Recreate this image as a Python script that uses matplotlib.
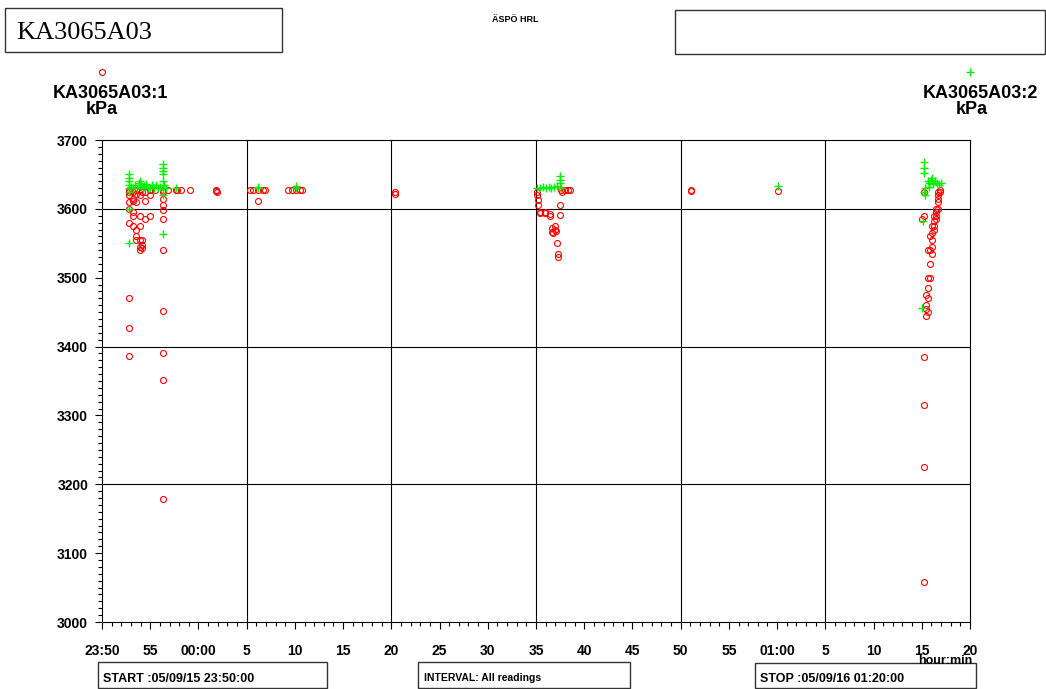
import matplotlib as mpl
mpl.use('Agg')
import matplotlib.pyplot as plt
from matplotlib.patches import Rectangle
from matplotlib.ticker import MultipleLocator

# minutes after 23:50 (05/09/15), pressure in kPa
s1_min = [2.8, 2.8, 2.8, 2.8, 2.8, 2.8, 2.8, 2.8, 2.8,
          3.2, 3.2, 3.2, 3.2, 3.2, 3.2,
          3.5, 3.5, 3.5, 3.5, 3.5, 3.5,
          3.9, 3.9, 3.9, 3.9, 3.9, 3.9, 3.9,
          4.1, 4.1, 4.1, 4.1,
          4.5, 4.5, 4.5, 5.0, 5.0, 5.0, 5.5,
          6.3, 6.3, 6.3, 6.3, 6.3, 6.3, 6.3, 6.3, 6.3, 6.3, 6.3,
          6.8, 7.7, 7.8, 8.2, 9.1,
          11.8, 11.8, 11.9,
          15.3, 15.7, 16.2, 16.2, 16.7, 16.9,
          19.3, 19.7, 20.1, 20.5, 20.7,
          30.4, 30.4,
          45.1, 45.1, 45.2, 45.2, 45.4, 45.4, 45.9, 45.9, 46.5, 46.5,
          46.7, 46.7, 46.8, 47.0, 47.0, 47.1, 47.2, 47.3, 47.3,
          47.5, 47.5, 47.6, 47.7, 48.0, 48.3, 48.5,
          61.1, 61.1, 70.1,
          85.2, 85.2, 85.0, 85.2, 85.2, 85.2, 85.2,
          85.4, 85.4, 85.4, 85.4,
          85.6, 85.6, 85.6, 85.6, 85.6,
          85.9, 85.9, 85.9, 85.9,
          86.1, 86.1, 86.1, 86.1, 86.1,
          86.3, 86.3, 86.3, 86.3,
          86.5, 86.5, 86.5, 86.5,
          86.7, 86.7, 86.7, 86.7, 86.7,
          86.9, 86.9]
s1_kpa = [3627, 3625, 3620, 3610, 3600, 3580, 3470, 3427, 3387,
          3625, 3615, 3612, 3595, 3590, 3575,
          3628, 3622, 3610, 3570, 3560, 3555,
          3628, 3620, 3590, 3575, 3555, 3545, 3540,
          3625, 3555, 3548, 3543,
          3625, 3612, 3585, 3628, 3620, 3590, 3628,
          3627, 3625, 3615, 3605, 3598, 3585, 3540, 3452, 3390, 3352, 3178,
          3627, 3627, 3628, 3627, 3627,
          3626, 3627, 3625,
          3627, 3627, 3627, 3612, 3627, 3627,
          3627, 3627, 3627, 3627, 3627,
          3625, 3622,
          3625, 3620, 3613, 3605, 3596, 3594, 3595, 3594, 3593, 3590,
          3572, 3567, 3565, 3570, 3575, 3568, 3550, 3535, 3530,
          3605, 3591, 3627, 3625, 3628, 3627, 3627,
          3627, 3626, 3626,
          3625, 3590, 3585, 3385, 3315, 3225, 3058,
          3455, 3445, 3460, 3475,
          3540, 3500, 3485, 3470, 3450,
          3560, 3540, 3520, 3500,
          3575, 3565, 3555, 3545, 3535,
          3590, 3583, 3575, 3570,
          3600, 3595, 3590, 3585,
          3625, 3620, 3615, 3610, 3600,
          3628, 3625]

s2_min = [2.8, 2.8, 2.8, 2.8, 2.8, 2.8, 2.8, 2.8,
          3.0, 3.2, 3.4, 3.6, 3.8, 3.9, 3.9, 4.0, 4.2, 4.4, 4.6, 4.8,
          5.0, 5.2, 5.4, 5.6, 5.8, 6.0,
          6.3, 6.3, 6.3, 6.3, 6.3, 6.3, 6.3, 6.3, 6.4, 6.6,
          7.7, 16.2, 16.2, 20.1, 20.1,
          45.1, 45.4, 45.7, 46.0, 46.3, 46.6, 46.9, 47.2, 47.5, 47.5, 47.5, 47.6,
          70.1,
          85.2, 85.2, 85.2, 85.2, 85.1, 85.0, 85.3, 85.3,
          85.6, 85.8, 86.0, 86.2, 86.4, 86.6, 86.8, 87.0, 85.8, 86.1]
s2_kpa = [3625, 3630, 3635, 3640, 3645, 3650, 3600, 3550,
          3632, 3630, 3635, 3630, 3638, 3640, 3635, 3632, 3630, 3633, 3636, 3630,
          3631, 3635, 3630, 3634, 3630, 3632,
          3630, 3640, 3650, 3655, 3660, 3665, 3620, 3563, 3635, 3630,
          3630, 3632, 3630, 3633, 3630,
          3630, 3631, 3632, 3630, 3632, 3631, 3632, 3633, 3637, 3642, 3648, 3630,
          3633,
          3668, 3660, 3652, 3625, 3583, 3456, 3620, 3630,
          3640, 3638, 3642, 3636, 3640, 3637, 3635, 3638, 3632, 3645]

xtick_min = list(range(0, 91, 5))
xtick_lab = ["23:50", "55", "00:00", "5", "10", "15", "20", "25", "30", "35",
             "40", "45", "50", "55", "01:00", "5", "10", "15", "20"]
ytick_kpa = list(range(3000, 3701, 100))
vgrid = [15, 30, 45, 60, 75]
hgrid = [3200, 3400, 3600]

W, H = 1046, 689
fig = plt.figure(figsize=(W / 100, H / 100), dpi=100)
ax = fig.add_axes([102 / W, 1 - 622 / H, 868 / W, 482 / H])

for g in vgrid:
    ax.axvline(g, color='black', lw=0.8, zorder=1)
for g in hgrid:
    ax.axhline(g, color='black', lw=0.8, zorder=1)

red = '#ff0000'
green = '#00ee00'
ax.plot(s1_min, s1_kpa, 'o', mfc='none', mec=red, ms=4.3, mew=0.8, zorder=3, clip_on=False)
ax.plot(s2_min, s2_kpa, '+', color=green, ms=6, mew=1.0, zorder=4, clip_on=False)

ax.set_xlim(0, 90)
ax.set_ylim(3000, 3700)
ax.set_xticks(xtick_min)
ax.set_xticklabels(xtick_lab)
ax.set_yticks(ytick_kpa)
ax.xaxis.set_minor_locator(MultipleLocator(1))
ax.yaxis.set_minor_locator(MultipleLocator(10))
ax.tick_params(which='major', direction='out', length=5, width=0.8, labelsize=10)
ax.tick_params(which='minor', direction='out', length=2.8, width=0.8)
ax.tick_params(axis='x', pad=11)
ax.tick_params(axis='y', pad=5)
for lab in ax.get_xticklabels() + ax.get_yticklabels():
    lab.set_fontweight('bold')
    lab.set_fontfamily('Liberation Sans')
for sp in ax.spines.values():
    sp.set_linewidth(0.8)

def fx(px):
    return px / W

def fy(py):
    return 1 - py / H

def box(x0, y0, x1, y1):
    fig.add_artist(Rectangle((fx(x0), fy(y1)), fx(x1) - fx(x0), fy(y0) - fy(y1),
                             transform=fig.transFigure, fill=False,
                             edgecolor='#333333', lw=1.0))

box(5, 8, 282, 52)
box(675, 10, 1045, 54)
box(98, 662, 327, 688)
box(418, 662, 630, 688)
box(755, 663, 976, 688)

sans = 'Liberation Sans'
fig.text(fx(16), fy(33), "KA3065A03", fontsize=19, family='Liberation Serif',
         ha='left', va='center')
fig.text(fx(515), fy(20), "ÄSPÖ HRL", fontsize=6.5, family=sans, weight='bold',
         ha='center', va='center')

fig.lines.append(plt.Line2D([fx(102)], [fy(72)], marker='o', mfc='none', mec=red,
                            ms=4.3, mew=0.8, transform=fig.transFigure))
fig.lines.append(plt.Line2D([fx(970)], [fy(72)], marker='+', color=green,
                            ms=6, mew=1.0, transform=fig.transFigure))
fig.text(fx(110), fy(93), "KA3065A03:1", fontsize=13, family=sans, weight='bold',
         ha='center', va='center')
fig.text(fx(102), fy(109), "kPa", fontsize=13, family=sans, weight='bold',
         ha='center', va='center')
fig.text(fx(980), fy(93), "KA3065A03:2", fontsize=13, family=sans, weight='bold',
         ha='center', va='center')
fig.text(fx(972), fy(109), "kPa", fontsize=13, family=sans, weight='bold',
         ha='center', va='center')

fig.text(fx(103), fy(679), "START :05/09/15 23:50:00", fontsize=9, family=sans,
         weight='bold', ha='left', va='center')
fig.text(fx(424), fy(678), "INTERVAL: All readings", fontsize=7.5, family=sans,
         weight='bold', ha='left', va='center')
fig.text(fx(760), fy(679), "STOP :05/09/16 01:20:00", fontsize=9, family=sans,
         weight='bold', ha='left', va='center')
fig.text(fx(972), fy(661), "hour:min", fontsize=9, family=sans, weight='bold',
         ha='right', va='center')

fig.savefig('out.png', dpi=100)
